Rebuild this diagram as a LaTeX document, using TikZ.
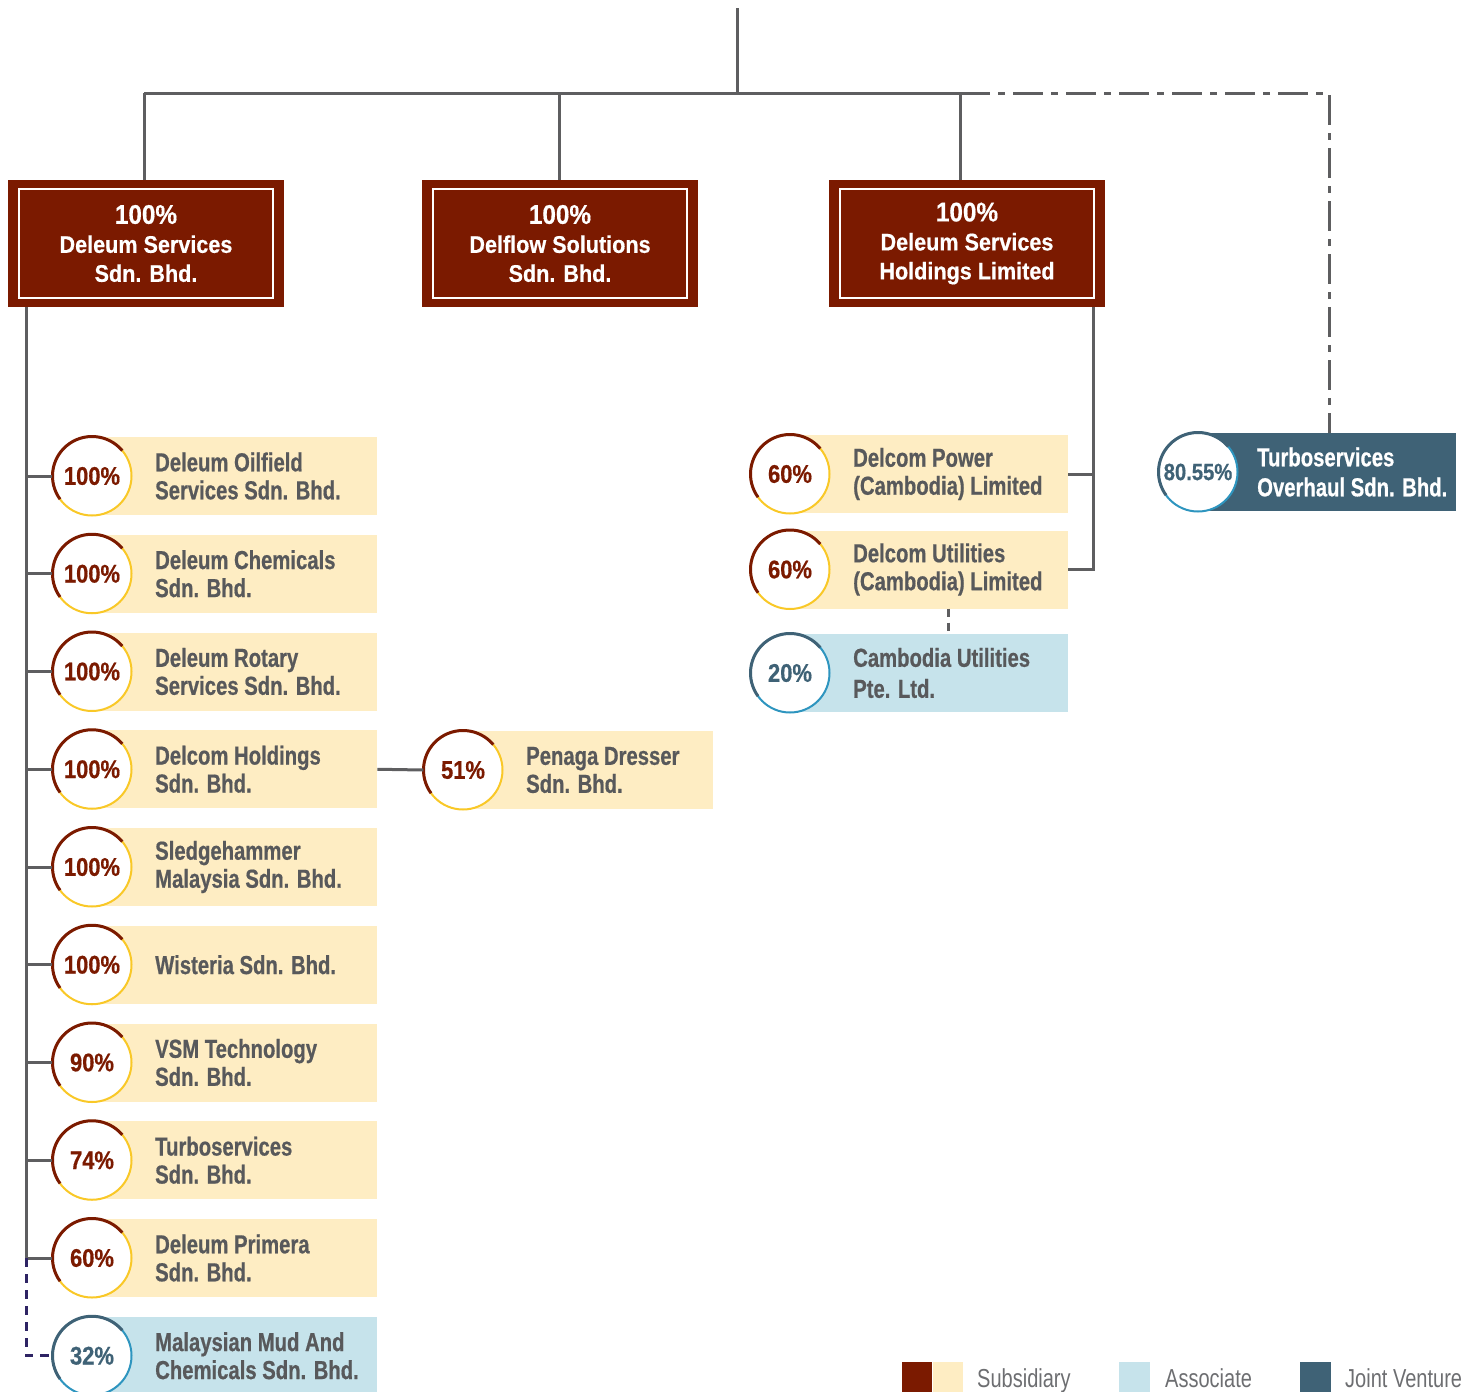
\documentclass[tikz,border=0pt]{standalone}
\usepackage{fontspec}
\setmainfont{Liberation Sans}
\newfontfamily\cndfont[FakeStretch=0.78,FakeBold=0.6]{Liberation Sans}
\newfontfamily\topfont[FakeStretch=0.9,FakeBold=0.5]{Liberation Sans}
\newfontfamily\pctfont[FakeStretch=0.86,FakeBold=0.5]{Liberation Sans}
\newfontfamily\legfont[FakeStretch=0.77]{Liberation Sans}
\definecolor{dred}{HTML}{7B1A00}
\definecolor{cream}{HTML}{FEEDC3}
\definecolor{ylw}{HTML}{F9C827}
\definecolor{lblue}{HTML}{C6E3EB}
\definecolor{jvblue}{HTML}{3F6276}
\definecolor{tblue}{HTML}{2E95BF}
\definecolor{lgray}{HTML}{5E5E60}
\definecolor{tgray}{HTML}{58595B}
\definecolor{purp}{HTML}{2E2464}
\definecolor{leggray}{HTML}{6D6E71}
\tikzset{
  conn/.style={draw=lgray, line width=3pt},
  dashdot/.style={draw=lgray, line width=3pt, dash pattern=on 30pt off 8pt on 7pt off 8pt},
  purpdash/.style={draw=purp, line width=3pt, dash pattern=on 9pt off 7pt},
  shortdash/.style={draw=lgray, line width=3pt, dash pattern=on 8pt off 6pt},
  topbox/.style={rectangle, fill=dred, minimum width=276pt, minimum height=127pt, inner sep=0pt,
    text=white, font=\topfont\bfseries\fontsize{24}{29}\selectfont, align=center,
    path picture={\draw[white, line width=1.6pt]
      ([shift={(11pt,9pt)}]path picture bounding box.south west) rectangle
      ([shift={(-11pt,-9pt)}]path picture bounding box.north east);}},
  ebox/.style={rectangle, minimum height=78pt, inner sep=0pt, draw=none},
  etext/.style={font=\cndfont\bfseries\fontsize{26}{28}\selectfont, align=left, inner sep=0pt, text=tgray},
  pcirc/.style={circle, minimum size=79pt, inner sep=0pt, fill=white,
    font=\pctfont\bfseries\fontsize{25.5}{27}\selectfont},
  legsq/.style={rectangle, inner sep=0pt, minimum width=30pt, minimum height=32pt, anchor=north west},
  legtext/.style={font=\legfont\fontsize{26}{28}\selectfont, text=leggray, inner sep=0pt, anchor=base west}
}
\newcommand\ringdraw[3]{%
  \draw[#3, line width=2pt] (#1.center) circle[radius=39.5pt];
  \draw[#2, line width=3pt] ([shift={(40:39.5pt)}]#1.center) arc[start angle=40, end angle=216, radius=39.5pt];}
% name, x, y, width, fill, pct, dark colour, light ring colour, text
\newcommand\entry[9]{%
  \node[ebox, fill=#5, minimum width=#4pt, anchor=west] (r#1) at (#2,#3) {};
  \node[etext, anchor=west] (t#1) at ([xshift=63pt]r#1.west) {#9};
  \node[pcirc, text=#7] (c#1) at (r#1.west) {#6};
  \ringdraw{c#1}{#7}{#8}}
\begin{document}
\begin{tikzpicture}[x=1pt,y=1pt]
\useasboundingbox (0,0) rectangle (1478,-1392);
\clip (0,0) rectangle (1478,-1392);

% top boxes
\node[topbox] (b1) at (146,-243.5) {{\fontsize{27}{29}\selectfont 100\%}\\Deleum Services\\Sdn. Bhd.};
\node[topbox] (b2) at (560,-243.5) {{\fontsize{27}{29}\selectfont 100\%}\\Delflow Solutions\\Sdn. Bhd.};
\node[topbox] (b3) at (967,-243.5) {{\fontsize{27}{29}\selectfont 100\%}\\Deleum Services\\Holdings Limited};

% left column
\entry{0}{92}{-476}{285}{cream}{100\%}{dred}{ylw}{Deleum Oilfield\\Services Sdn. Bhd.}
\entry{1}{92}{-573.75}{285}{cream}{100\%}{dred}{ylw}{Deleum Chemicals\\Sdn. Bhd.}
\entry{2}{92}{-671.5}{285}{cream}{100\%}{dred}{ylw}{Deleum Rotary\\Services Sdn. Bhd.}
\entry{3}{92}{-769.25}{285}{cream}{100\%}{dred}{ylw}{Delcom Holdings\\Sdn. Bhd.}
\entry{4}{92}{-867}{285}{cream}{100\%}{dred}{ylw}{Sledgehammer\\Malaysia Sdn. Bhd.}
\entry{5}{92}{-964.75}{285}{cream}{100\%}{dred}{ylw}{Wisteria Sdn. Bhd.}
\entry{6}{92}{-1062.5}{285}{cream}{90\%}{dred}{ylw}{VSM Technology\\Sdn. Bhd.}
\entry{7}{92}{-1160.25}{285}{cream}{74\%}{dred}{ylw}{Turboservices\\Sdn. Bhd.}
\entry{8}{92}{-1258}{285}{cream}{60\%}{dred}{ylw}{Deleum Primera\\Sdn. Bhd.}
\entry{9}{92}{-1355.75}{285}{lblue}{32\%}{jvblue}{tblue}{Malaysian Mud And\\Chemicals Sdn. Bhd.}

% Penaga
\entry{p}{463}{-770}{250}{cream}{51\%}{dred}{ylw}{Penaga Dresser\\Sdn. Bhd.}

% right column
\entry{a}{790}{-474}{278}{cream}{60\%}{dred}{ylw}{Delcom Power\\(Cambodia) Limited}
\entry{b}{790}{-569.5}{278}{cream}{60\%}{dred}{ylw}{Delcom Utilities\\(Cambodia) Limited}
\entry{c}{790}{-673}{278}{lblue}{20\%}{jvblue}{tblue}{Cambodia Utilities\\[3pt]Pte. Ltd.}

% joint venture
\node[ebox, fill=jvblue, minimum width=258pt, anchor=west] (rt) at (1198,-472) {};
\node[etext, text=white, anchor=west] (tt) at ([xshift=59pt]rt.west) {Turboservices\\[2pt]Overhaul Sdn. Bhd.};
\node[pcirc, text=jvblue, font=\pctfont\bfseries\fontsize{23.5}{25}\selectfont] (ct) at (rt.west) {80.55\%};
\ringdraw{ct}{jvblue}{tblue}

% connectors: top
\coordinate (top) at (737,-8);
\coordinate (hub) at (737,-93);
\coordinate (hl) at (144,-93);
\coordinate (hm) at (559,-93);
\coordinate (hr) at (960,-93);
\coordinate (hd) at (1329,-93);
\draw[conn] (top) -- (hub);
\draw[conn] (hl) -- (hr);
\draw[conn] (hl) -- (hl |- b1.north);
\draw[conn] (hm) -- (hm |- b2.north);
\draw[conn] (hr) -- (hr |- b3.north);
\draw[dashdot] (hr) -- (hd) -- (hd |- rt.north);

% left trunk
\coordinate (lt) at (26,-307);
\draw[conn] (lt) -- (lt |- c8.west);
\foreach \k in {0,...,8} {\draw[conn] (lt |- c\k.west) -- (c\k.west);}
\draw[purpdash] (lt |- c8.west) -- (lt |- c9.west) -- (c9.west);
\draw[conn] (r3.east) -- (cp.west);

% right trunk
\coordinate (rv) at (1093,-307);
\draw[conn] (rv) -- (rv |- rb.east) -- (rb.east);
\draw[conn] (ra.east) -- (rv |- ra.east);
\coordinate (cx) at (948,0);
\draw[shortdash] (rb.south -| cx) -- (rc.north -| cx);

% legend
\node[legsq, fill=dred] (l1) at (902,-1362) {};
\node[legsq, fill=cream] (l2) at (l1.north east) {};
\node[legtext] (lt1) at (977,-1387) {Subsidiary};
\node[legsq, fill=lblue, minimum width=31pt] (l3) at (1119,-1362) {};
\node[legtext] (lt2) at (1165,-1387) {Associate};
\node[legsq, fill=jvblue, minimum width=31pt] (l4) at (1300,-1362) {};
\node[legtext] (lt3) at (1345,-1387) {Joint Venture};
\end{tikzpicture}
\end{document}
